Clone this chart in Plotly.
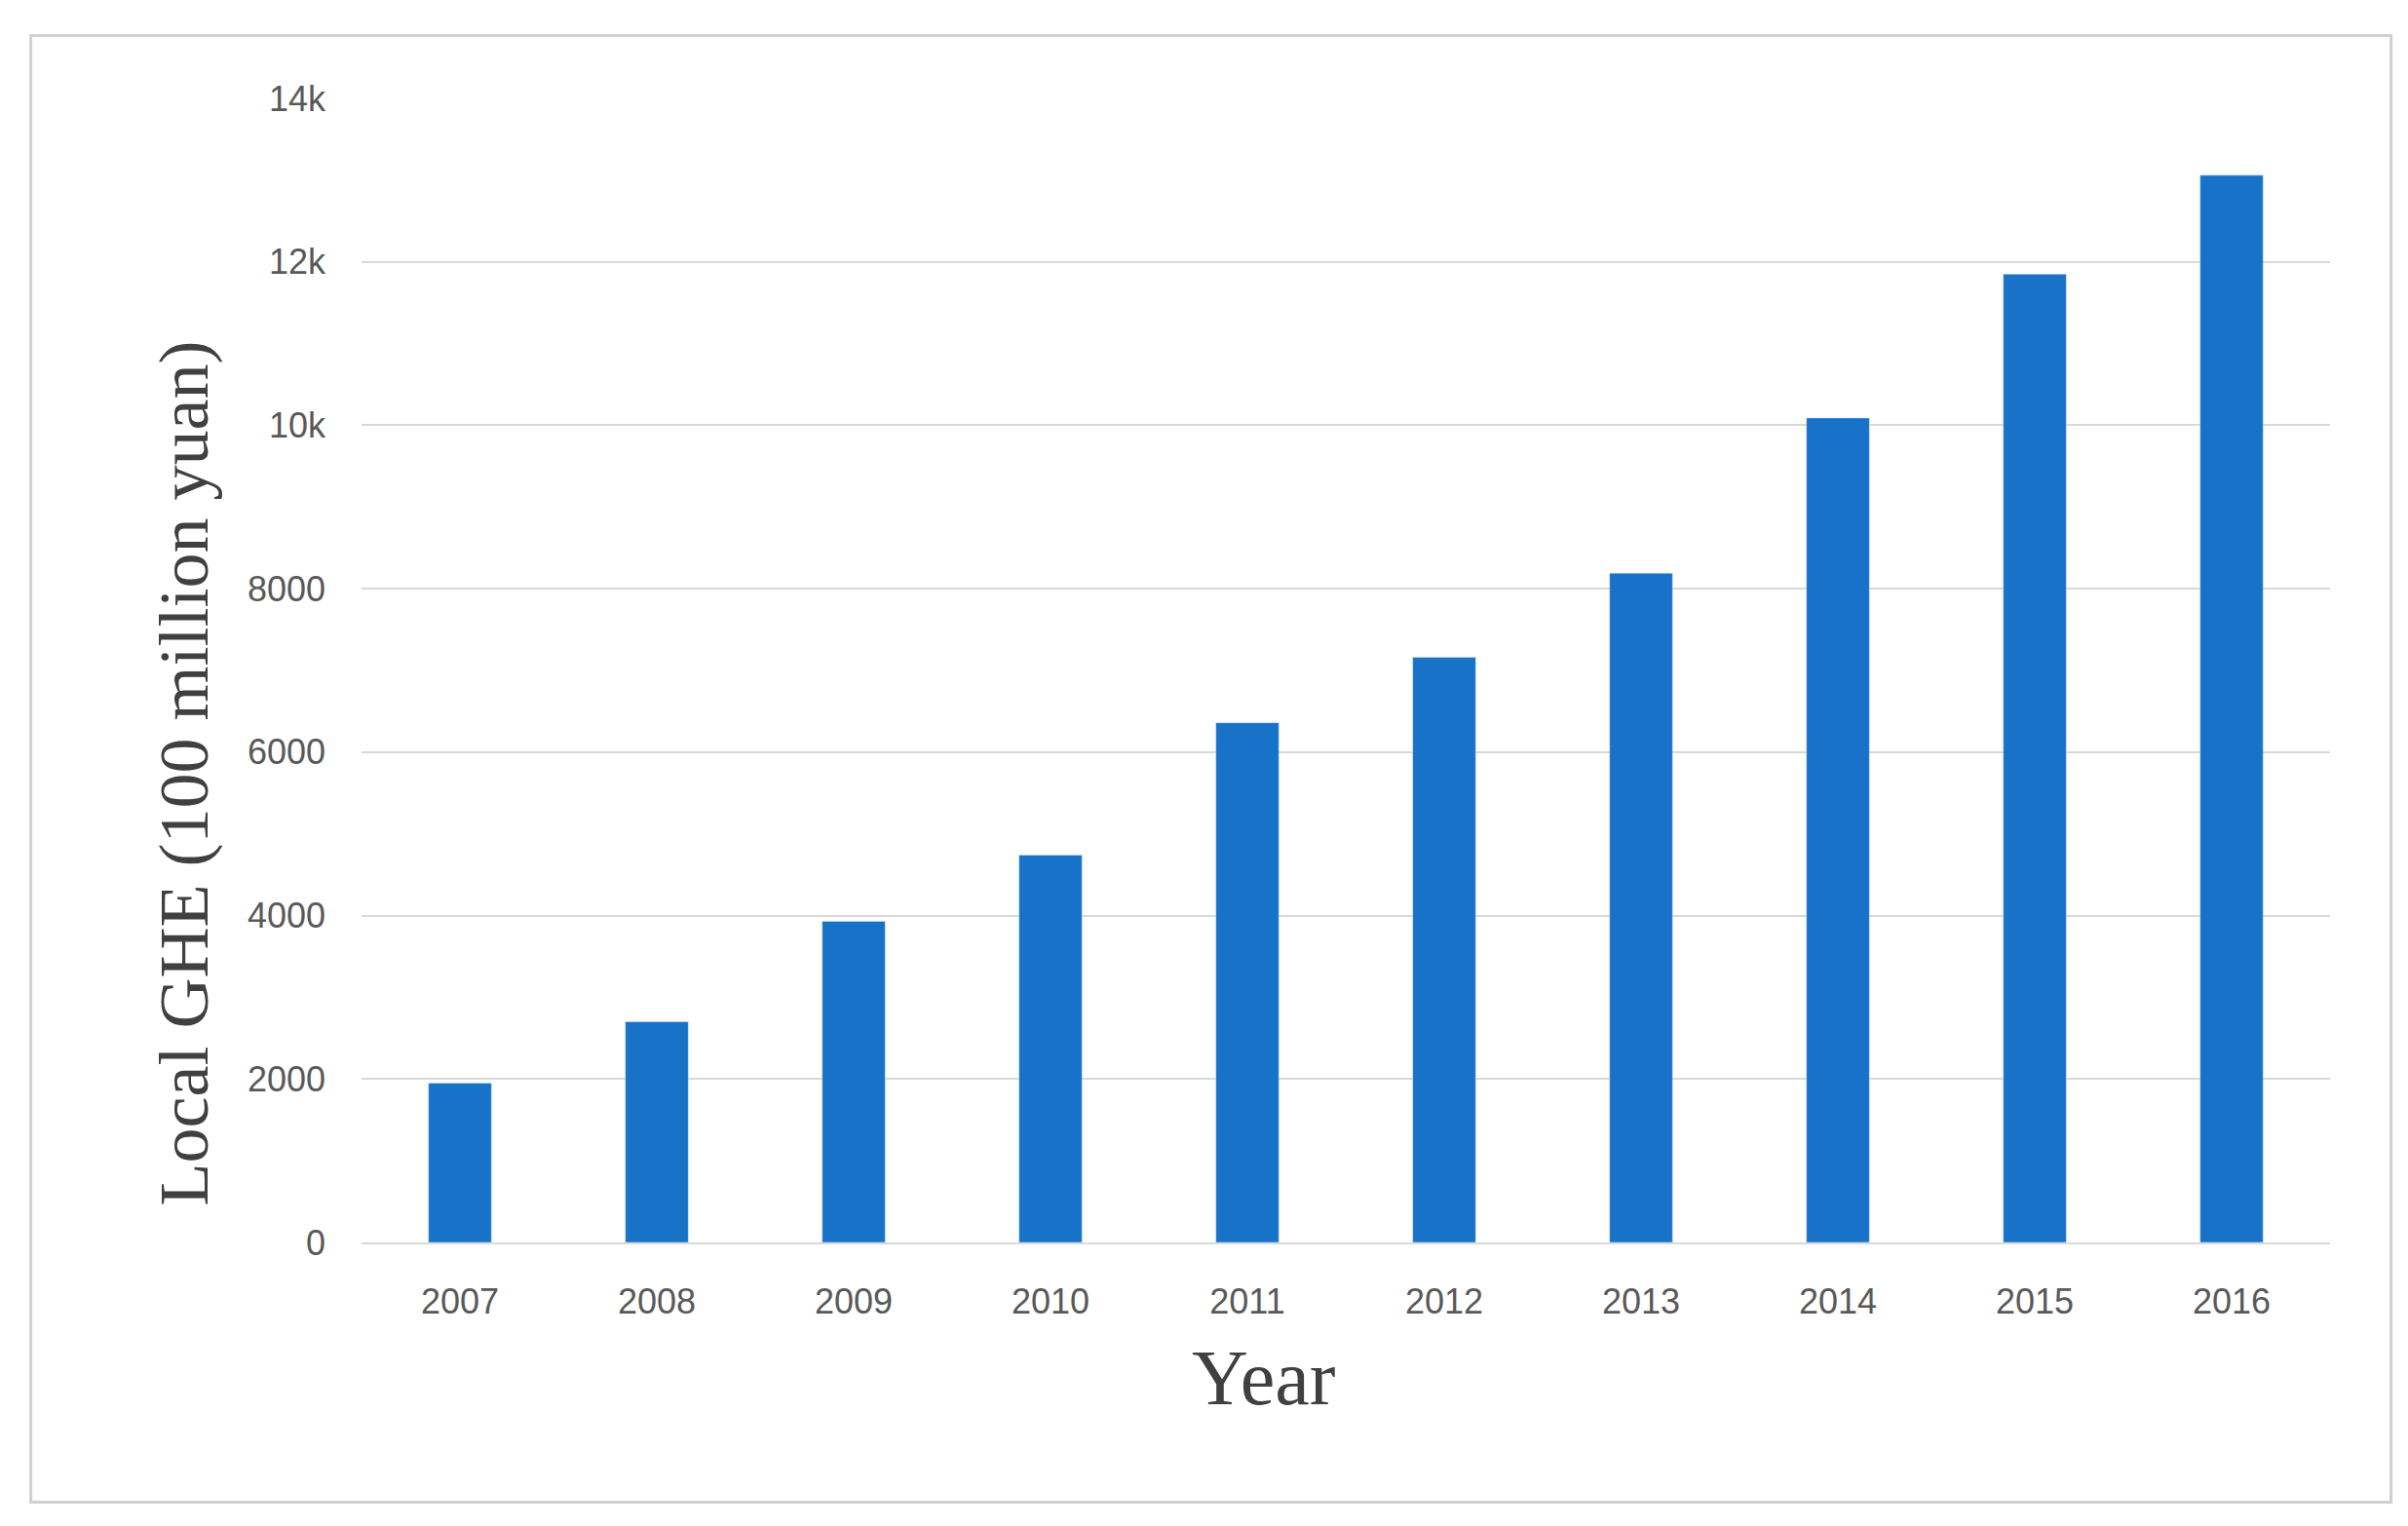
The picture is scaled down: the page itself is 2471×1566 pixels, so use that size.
import plotly.graph_objects as go

years = ["2007","2008","2009","2010","2011","2012","2013","2014","2015","2016"]
values = [1950, 2700, 3930, 4740, 6360, 7160, 8190, 10090, 11850, 13060]
yticks = [0, 2000, 4000, 6000, 8000, 10000, 12000, 14000]

fig = go.Figure(go.Bar(x=years, y=values, marker_color="#1772C8", width=0.32))
fig.update_layout(
    width=2471, height=1566, paper_bgcolor="white", plot_bgcolor="white",
    margin=dict(l=363, r=88, t=93, b=299), showlegend=False,
    font=dict(family="Liberation Sans, Arial", size=35, color="#595959"),
    xaxis=dict(showline=True, linecolor="#d9d9d9", linewidth=2, ticks="",
               ticklabelstandoff=28, tickfont=dict(size=36)),
    yaxis=dict(range=[0, 14000], tickvals=yticks, showgrid=True, gridcolor="#d9d9d9",
               gridwidth=2, zeroline=False, ticklabelstandoff=36, tickfont=dict(size=36)),
    shapes=[dict(type="rect", xref="paper", yref="paper", x0=-0.168, x1=1.031,
                 y0=-0.227, y1=1.055, line=dict(color="#d0d0d0", width=3))],
    annotations=[
        dict(text="Local GHE (100 million yuan)", xref="paper", yref="paper",
             x=-0.111, y=0.41, textangle=-90, showarrow=False,
             font=dict(family="Liberation Serif, Times New Roman", size=72, color="#404040")),
        dict(text="Year", xref="paper", yref="paper", x=0.458, y=-0.158,
             showarrow=False,
             font=dict(family="Liberation Serif, Times New Roman", size=80, color="#404040")),
    ],
)
fig.write_html("out.html")
